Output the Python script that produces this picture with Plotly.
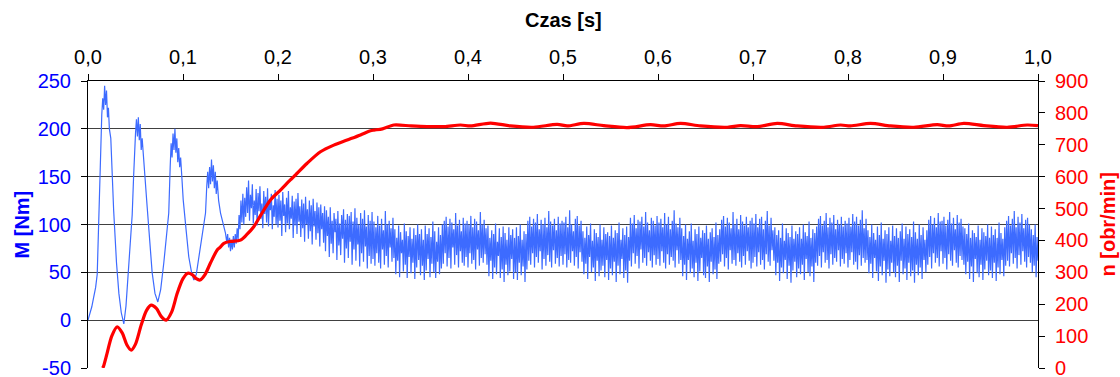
import numpy as np
import plotly.graph_objects as go

# ---- Torque M [Nm]: start-up oscillation (read point by point) ----
t_start = [0, 0.002, 0.004, 0.006, 0.008, 0.0097, 0.011, 0.012, 0.0135, 0.0145, 0.0155, 0.0165,
           0.0175, 0.0185, 0.0195, 0.0205, 0.0215, 0.0225, 0.024, 0.027, 0.030, 0.0325, 0.035,
           0.0377, 0.040, 0.043, 0.0465, 0.048, 0.049, 0.050, 0.051, 0.052, 0.053, 0.054, 0.055,
           0.056, 0.057, 0.0587, 0.0623, 0.0675, 0.0705, 0.0735, 0.0765, 0.0798, 0.085, 0.0865,
           0.0875, 0.0885, 0.0895, 0.0905, 0.0915, 0.0925, 0.0935, 0.0945, 0.0955, 0.0965, 0.0975,
           0.099, 0.1002, 0.1035, 0.1061, 0.109, 0.1114, 0.114, 0.1184, 0.1237, 0.125, 0.126, 0.127,
           0.128, 0.129, 0.130, 0.131, 0.132, 0.133, 0.134, 0.135, 0.136, 0.1375, 0.1395, 0.1447,
           0.146, 0.147, 0.148, 0.149, 0.150, 0.151, 0.152, 0.153, 0.154, 0.155, 0.156, 0.157,
           0.158, 0.159, 0.160, 0.161, 0.162, 0.163, 0.164]
M_start = [0, 6, 14, 24, 34, 48, 100, 145, 190, 215, 232, 220,
           245, 225, 240, 212, 222, 200, 190, 115, 60, 28, 8,
           -4, 15, 55, 110, 150, 180, 195, 210, 192, 212, 188, 205,
           178, 190, 165, 118, 50, 28, 19, 32, 60, 112, 160,
           185, 170, 195, 178, 200, 175, 190, 165, 180, 160, 170,
           146, 126, 92, 66, 50, 42, 48, 77, 112, 140, 155, 138,
           160, 142, 168, 145, 162, 138, 155, 132, 146, 125, 112, 91,
           82, 90, 76, 86, 72, 84, 74, 88, 76, 90, 80, 96,
           84, 110, 95, 125, 102, 132, 100]

# ---- Torque M [Nm]: noisy part, one value per 1 ms ----
M_0165 = [128, 108, 139, 112, 146, 104, 131, 117, 142, 101, 125, 110, 137, 99, 133, 114, 140, 106,
          122, 96, 135, 111, 129, 102, 138, 98, 126, 115, 132, 95, 120, 108, 136, 100, 127]
M_0200 = [97, 131, 104, 125, 88, 134, 109, 121, 92, 128, 101, 135, 95, 118, 106, 130, 86, 124, 99, 127,
          90, 133, 103, 119, 87, 126, 96, 122, 82, 129, 100, 116, 85, 125, 93, 120, 79, 127, 98, 114,
          84, 123, 91, 118, 77, 121, 95, 112, 81, 119]
M_0250 = [72, 115, 88, 108, 66, 118, 80, 104, 70, 112, 92, 106, 63, 114, 78, 101, 68, 110, 85, 116,
          60, 105, 75, 111, 65, 109, 82, 113, 58, 103, 74, 117, 62, 107, 79, 100, 56, 112, 70, 106,
          61, 115, 77, 98, 54, 110, 67, 104, 59, 113]
M_0300 = [64, 103, 57, 97, 70, 109, 60, 99, 54, 106, 74, 94, 58, 114, 67, 100, 55, 104, 76, 96,
          61, 107, 65, 95, 48, 86, 62, 99, 45, 92, 70, 84, 51, 101, 58, 93, 44, 88, 66, 97,
          49, 85, 60, 96, 43, 89, 55, 100, 63, 90]
M_0350 = [47, 95, 57, 84, 42, 99, 52, 90, 64, 96, 45, 87, 59, 103, 50, 93, 44, 82, 61, 97,
          48, 89, 54, 100, 59, 104, 70, 108, 56, 98, 65, 106, 54, 102, 76, 95, 58, 112, 68, 99,
          55, 105, 72, 93, 60, 107, 57, 101, 66, 104]
M_0400 = [55, 100, 70, 109, 59, 97, 63, 106, 53, 103, 74, 94, 57, 113, 65, 100, 60, 105, 69, 96,
          58, 99, 46, 86, 62, 94, 43, 90, 55, 101, 48, 82, 67, 96, 44, 87, 53, 98, 40, 91,
          58, 84, 47, 97, 51, 89, 64, 95, 43, 86]
M_0450 = [50, 97, 42, 88, 60, 100, 47, 84, 56, 93, 40, 90, 53, 104, 62, 108, 58, 98, 70, 106,
          55, 102, 66, 111, 60, 95, 72, 105, 53, 100, 64, 107, 57, 97, 68, 114, 61, 103, 55, 99,
          73, 106, 59, 94, 65, 108, 56, 101, 67, 104]
M_0500 = [58, 102, 69, 108, 55, 97, 63, 115, 60, 100, 72, 93, 57, 106, 66, 109, 54, 99, 71, 104,
          61, 93, 48, 86, 59, 98, 43, 89, 66, 101, 50, 83, 55, 95, 41, 91, 62, 87, 46, 100,
          52, 84, 57, 97, 45, 90, 63, 92, 42, 88]
M_0550 = [54, 99, 47, 86, 61, 94, 40, 91, 57, 102, 48, 84, 64, 96, 44, 89, 52, 98, 39, 87,
          62, 107, 56, 101, 70, 110, 59, 96, 67, 105, 54, 103, 74, 108, 60, 98, 65, 113, 57, 102,
          71, 94, 62, 107, 55, 104, 68, 99, 58, 109]
M_0600 = [64, 102, 57, 106, 72, 97, 60, 112, 54, 100, 69, 108, 58, 95, 66, 104, 62, 115, 55, 101,
          73, 97, 59, 107, 63, 96, 46, 88, 58, 100, 42, 85, 63, 93, 49, 101, 54, 83, 45, 95,
          60, 90, 41, 98, 51, 86, 65, 94, 47, 91]
M_0650 = [44, 99, 56, 85, 40, 92, 61, 96, 48, 87, 53, 102, 43, 89, 59, 95, 61, 105, 69, 109,
          56, 98, 65, 107, 53, 102, 73, 96, 59, 113, 63, 100, 57, 106, 70, 95, 61, 110, 55, 103,
          67, 99, 58, 108, 72, 97, 62, 104, 54, 107]
M_0700 = [60, 101, 66, 111, 56, 97, 71, 106, 58, 108, 63, 95, 53, 104, 69, 114, 61, 99, 57, 107,
          73, 94, 62, 97, 47, 89, 60, 94, 41, 86, 55, 101, 49, 83, 63, 96, 43, 91, 57, 87,
          39, 99, 52, 85, 61, 93, 45, 90, 54, 97]
M_0750 = [48, 85, 58, 100, 42, 92, 64, 88, 50, 103, 46, 86, 56, 95, 40, 91, 60, 98, 57, 106,
          67, 109, 55, 99, 71, 104, 60, 112, 63, 97, 54, 107, 69, 102, 58, 110, 65, 95, 61, 105,
          73, 100, 56, 108, 64, 98, 59, 104, 70, 101]
M_0800 = [55, 107, 63, 98, 71, 111, 58, 103, 61, 108, 53, 99, 68, 105, 57, 115, 65, 96, 60, 106,
          63, 94, 49, 87, 59, 100, 44, 91, 65, 84, 51, 98, 41, 89, 56, 102, 47, 85, 62, 94,
          39, 90, 53, 97, 46, 83, 60, 99, 50, 88]
M_0850 = [45, 96, 57, 86, 40, 93, 62, 101, 48, 85, 54, 98, 42, 90, 60, 95, 46, 87, 52, 103,
          39, 92, 58, 85, 47, 100, 55, 89, 43, 97, 63, 84, 50, 94, 58, 105, 66, 109, 54, 100,
          70, 107, 60, 97, 65, 112, 56, 103, 72, 104]
M_0900 = [59, 108, 65, 99, 53, 105, 69, 113, 62, 101, 57, 107, 73, 95, 60, 110, 55, 102, 67, 106,
          63, 98, 58, 96, 48, 90, 61, 101, 43, 86, 56, 94, 40, 91, 64, 87, 49, 99, 45, 84,
          58, 96, 42, 92, 53, 88, 62, 100, 47, 86]
M_0950 = [52, 98, 44, 89, 60, 95, 41, 86, 55, 102, 48, 91, 63, 85, 46, 97, 57, 104, 62, 109,
          56, 99, 70, 106, 59, 114, 65, 97, 54, 108, 68, 102, 58, 111, 72, 96, 61, 105, 55, 107,
          66, 100, 60, 95, 50, 89, 57, 100, 45, 87, 62]
noise_blocks = [(0.165, 0.199, M_0165), (0.200, 0.249, M_0200), (0.250, 0.299, M_0250),
                (0.300, 0.349, M_0300), (0.350, 0.399, M_0350), (0.400, 0.449, M_0400),
                (0.450, 0.499, M_0450), (0.500, 0.549, M_0500), (0.550, 0.599, M_0550),
                (0.600, 0.649, M_0600), (0.650, 0.699, M_0650), (0.700, 0.749, M_0700),
                (0.750, 0.799, M_0750), (0.800, 0.849, M_0800), (0.850, 0.899, M_0850),
                (0.900, 0.949, M_0900), (0.950, 1.000, M_0950)]

# ---- Speed n [obr/min] ----
t_speed = [0.0155, 0.0163, 0.020, 0.025, 0.0307, 0.036, 0.041, 0.0455, 0.050, 0.056, 0.0615,
           0.0665, 0.072, 0.077, 0.0823, 0.088, 0.094, 0.100, 0.105, 0.110, 0.114, 0.118, 0.123,
           0.129, 0.136, 0.139, 0.143, 0.150, 0.1605, 0.167, 0.1745, 0.182, 0.192, 0.2026, 0.213,
           0.2166, 0.2307, 0.2447, 0.2587, 0.2728, 0.2868, 0.2974, 0.301, 0.310, 0.322, 0.340,
           0.357, 0.375, 0.392, 0.4026, 0.4237, 0.4447, 0.469, 0.4939, 0.5044, 0.522, 0.543,
           0.5676, 0.5921, 0.606, 0.6237, 0.6447, 0.673, 0.6868, 0.7044, 0.7255, 0.7465, 0.7746,
           0.7921, 0.8026, 0.8237, 0.8447, 0.8693, 0.8939, 0.906, 0.922, 0.943, 0.9675, 0.9886, 1.0]
n_speed = [0, 5, 45, 100, 129, 110, 72, 56, 75, 135, 180,
           197, 187, 162, 150, 175, 235, 280, 297, 292, 280, 276, 292,
           330, 370, 378, 391, 397, 401, 418, 443, 480, 527, 558, 590,
           600, 642, 678, 699, 715, 731, 744, 746, 750, 762, 759,
           757, 757, 762, 759, 768, 759, 755, 764, 759, 767, 760,
           754, 763, 759, 767, 759, 755, 760, 757, 767, 759, 755,
           762, 759, 767, 759, 755, 763, 759, 767, 760, 755, 762, 760]

x_ticks = [0.0, 0.1, 0.2, 0.3, 0.4, 0.5, 0.6, 0.7, 0.8, 0.9, 1.0]
M_ticks = [-50, 0, 50, 100, 150, 200, 250]
M_ticktext = ["-50", "0", "50", "100", "150", "200", "250"]

t_M = list(t_start)
M_all = list(M_start)
for a, b, vals in noise_blocks:
    t_M += list(np.linspace(a, b, len(vals)))
    M_all += vals

FONT = "Liberation Sans, Arial, sans-serif"
BLUE_TXT = "#0000FF"
RED = "#FF0000"

fig = go.Figure()
fig.add_trace(go.Scatter(x=t_M, y=M_all, mode="lines", yaxis="y",
                         line=dict(color="#3D6BFF", width=1.2), showlegend=False,
                         hoverinfo="skip"))
fig.add_trace(go.Scatter(x=t_speed, y=n_speed, mode="lines", yaxis="y2",
                         line=dict(color=RED, width=3.2, shape="spline", smoothing=0.8),
                         showlegend=False, hoverinfo="skip"))

fig.update_layout(
    width=1120, height=377,
    margin=dict(l=88, r=82, t=81, b=9, autoexpand=False),
    paper_bgcolor="white", plot_bgcolor="white",
    separators=", ",
    font=dict(family=FONT, size=20, color="black"),
    xaxis=dict(side="top", range=[0, 1], tickvals=x_ticks, tickformat=".1f",
               showline=True, linecolor="black", linewidth=1, mirror=False,
               ticks="outside", ticklen=6, tickcolor="black", showgrid=False,
               zeroline=False, ticklabelstandoff=2, automargin=False,
               tickfont=dict(family=FONT, size=20, color="black")),
    yaxis=dict(range=[-50, 250], tickvals=M_ticks, ticktext=M_ticktext,
               showline=True, linecolor="black", linewidth=1,
               ticks="outside", ticklen=6, tickcolor="black", showgrid=True,
               gridcolor="#404040", gridwidth=1, zeroline=False, ticklabelstandoff=6,
               ticklabeloverflow="allow", automargin=False,
               tickfont=dict(family=FONT, size=20, color=BLUE_TXT)),
    yaxis2=dict(range=[0, 900], dtick=100, overlaying="y", side="right", showline=True,
                linecolor="black", linewidth=1, ticks="outside", ticklen=6, tickcolor="black",
                showgrid=False, zeroline=False, ticklabelstandoff=6,
                ticklabeloverflow="allow", automargin=False,
                tickfont=dict(family=FONT, size=20, color=RED)),
    yaxis3=dict(range=[0, 900], dtick=100, overlaying="y", side="right", anchor="x",
                showline=False, ticks="inside", ticklen=6, tickcolor="black",
                showticklabels=False, showgrid=False, zeroline=False, automargin=False),
    annotations=[
        dict(text="<b>Czas [s]</b>", x=0.5, y=1, xref="paper", yref="paper", yshift=61,
             xanchor="center", yanchor="middle", showarrow=False,
             font=dict(family=FONT, size=20, color="black")),
        dict(text="<b>M [Nm]</b>", xref="paper", yref="paper", x=0, y=0.5,
             xanchor="center", yanchor="middle", xshift=-67, textangle=-90, showarrow=False,
             font=dict(family=FONT, size=20, color=BLUE_TXT)),
        dict(text="<b>n [obr/min]</b>", xref="paper", yref="paper", x=1, y=0.5,
             xanchor="center", yanchor="middle", xshift=69, textangle=-90, showarrow=False,
             font=dict(family=FONT, size=20, color=RED)),
    ],
)

fig.write_html("out.html", config={"displayModeBar": False},
               post_script="document.body.style.margin='0';")
